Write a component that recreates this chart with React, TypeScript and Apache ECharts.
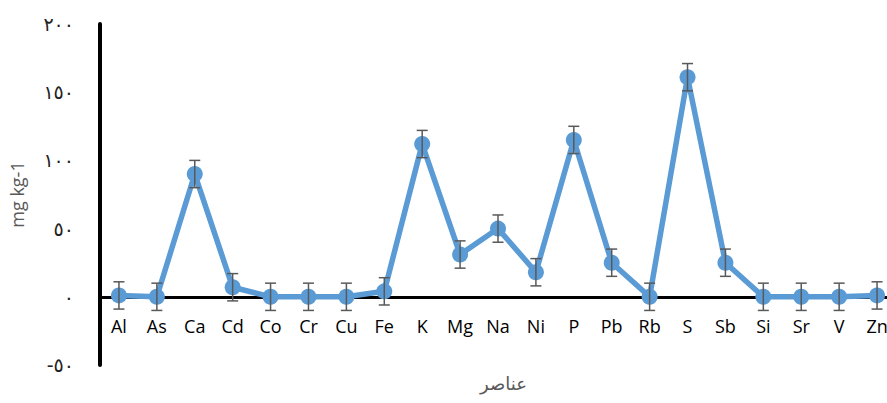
import React, { useEffect, useRef } from "react";
import * as echarts from "echarts";

const categories = ["Al", "As", "Ca", "Cd", "Co", "Cr", "Cu", "Fe", "K", "Mg", "Na", "Ni", "P", "Pb", "Rb", "S", "Sb", "Si", "Sr", "V", "Zn"];
const values = [1, 0, 90, 7, 0, 0, 0, 4, 112, 31, 50, 18, 115, 25, 0, 161, 25, 0, 0, 0, 1];
const errors = [10, 10, 10, 10, 10, 10, 10, 10, 10, 10, 10, 10, 10, 10, 10, 10, 10, 10, 10, 10, 10];

const arabicDigits = ["٠", "١", "٢", "٣", "٤", "٥", "٦", "٧", "٨", "٩"];
const toArabic = (v: number) => String(v).replace(/[0-9]/g, (d) => arabicDigits[Number(d)]);

export default function App() {
  const ref = useRef<HTMLDivElement>(null);
  useEffect(() => {
    document.body.style.margin = "0";
    const chart = echarts.init(ref.current!, null, { renderer: "svg" });
    const errData = values.map((v, i) => [i, v - errors[i], v + errors[i]]);
    chart.setOption({
      animation: false,
      backgroundColor: "#ffffff",
      grid: { left: 100, top: 24, bottom: 38, right: 0, containLabel: false },
      xAxis: {
        type: "category",
        data: categories,
        boundaryGap: true,
        offset: -68,
        axisLine: { onZero: false, lineStyle: { color: "#000000", width: 3 } },
        axisTick: { show: false },
        axisLabel: { color: "#000000", fontSize: 18, margin: 20, fontFamily: "Open Sans" },
        splitLine: { show: false },
      },
      yAxis: {
        type: "value",
        min: -50,
        max: 200,
        interval: 50,
        axisLine: { show: true, onZero: false, lineStyle: { color: "#000000", width: 4 } },
        axisTick: { show: false },
        splitLine: { show: false },
        axisLabel: {
          color: "#222222",
          fontSize: 19,
          margin: 26,
          fontFamily: "DejaVu Sans",
          formatter: (v: number) => (v < 0 ? "-" + toArabic(-v) : toArabic(v)),
        },
        name: "mg kg-1",
        nameLocation: "middle",
        nameGap: 74,
        nameTextStyle: { color: "#595959", fontSize: 18, fontFamily: "Open Sans" },
      },
      graphic: [
        {
          type: "text",
          left: 480,
          top: 374,
          style: { text: "عناصر", fontSize: 18, fill: "#595959", fontFamily: "DejaVu Sans" },
        },
      ],
      series: [
        {
          type: "line",
          data: values,
          symbol: "circle",
          symbolSize: 16,
          itemStyle: { color: "#5B9BD5" },
          lineStyle: { color: "#5B9BD5", width: 5.5 },
          z: 2,
        },
        {
          type: "custom",
          data: errData,
          z: 3,
          renderItem: (params: any, api: any) => {
            const x = api.value(0);
            const lo = api.coord([x, api.value(1)]);
            const hi = api.coord([x, api.value(2)]);
            const w = 5.5;
            const style = { stroke: "#595959", lineWidth: 1.5 };
            return {
              type: "group",
              children: [
                { type: "line", shape: { x1: lo[0], y1: lo[1], x2: hi[0], y2: hi[1] }, style },
                { type: "line", shape: { x1: lo[0] - w, y1: lo[1], x2: lo[0] + w, y2: lo[1] }, style },
                { type: "line", shape: { x1: hi[0] - w, y1: hi[1], x2: hi[0] + w, y2: hi[1] }, style },
              ],
            };
          },
        },
      ],
    });
    return () => chart.dispose();
  }, []);
  return (
    <div style={{ width: 887, height: 403, overflow: "hidden" }}>
      <div ref={ref} style={{ width: 896, height: 403 }} />
    </div>
  );
}
